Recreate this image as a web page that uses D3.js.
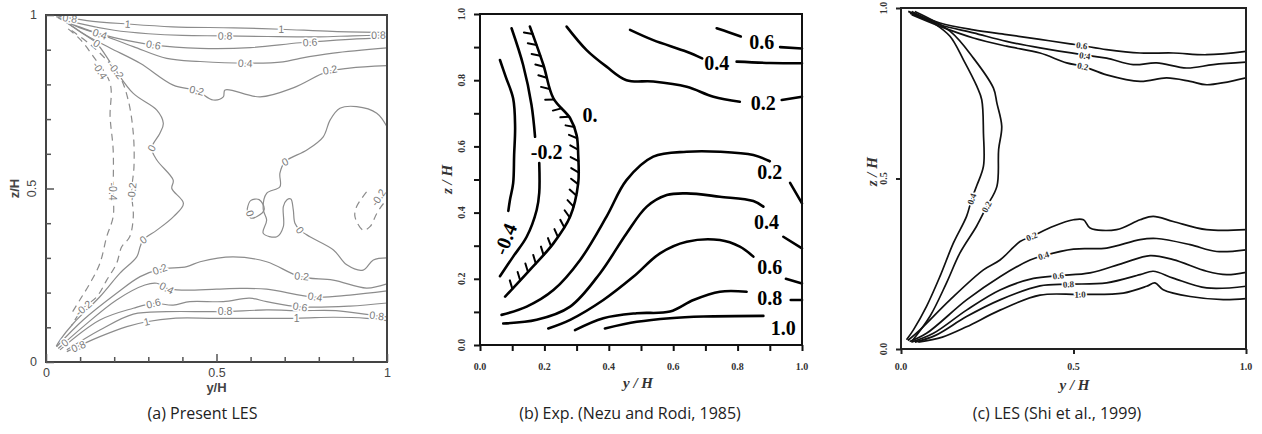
<!DOCTYPE html>
<html><head><meta charset="utf-8">
<script src="https://cdn.jsdelivr.net/npm/d3@7"></script>
<style>
body{margin:0;background:#fff;}
svg{display:block;}
</style></head><body>
<svg id="chart" width="1262" height="434"></svg>
<script>
// ---------------- DATA (y/H, z/H) ----------------
const captions = ["(a) Present LES", "(b) Exp. (Nezu and Rodi, 1985)", "(c) LES (Shi et al., 1999)"];
const axisTitleX = ["y/H", "y / H", "y / H"];
const axisTitleZ = ["z/H", "z / H", "z / H"];
const aTickMajor = [0, 0.5, 1];
const aTickLabels = ["0", "0.5", "1"];
const aTickMinor = [0.1,0.2,0.3,0.4,0.6,0.7,0.8,0.9];
const bTicks = [0,0.1,0.2,0.3,0.4,0.5,0.6,0.7,0.8,0.9,1.0];
const bTickLabels = ["0.0","0.2","0.4","0.6","0.8","1.0"];
const bTickLabelVals = [0,0.2,0.4,0.6,0.8,1.0];
const cTicks = [0, 0.5, 1.0];
const cTickLabels = ["0.0","0.5","1.0"];

// Panel (a) Present LES
const aTop10 = [[0.03,0.998],[0.12,0.984],[0.24,0.974],[0.37,0.966],[0.55,0.963],[0.69,0.959],[0.84,0.953],[1.0,0.950]];
const aTop08 = [[0.03,0.995],[0.1,0.975],[0.2,0.956],[0.3,0.946],[0.4,0.941],[0.52,0.940],[0.65,0.938],[0.8,0.937],[0.9,0.940],[1.0,0.942]];
const aTop06 = [[0.035,0.992],[0.1,0.963],[0.2,0.935],[0.315,0.914],[0.452,0.904],[0.6,0.906],[0.745,0.920],[0.89,0.93],[1.0,0.935]];
const aTop04 = [[0.04,0.99],[0.1,0.965],[0.158,0.945],[0.256,0.909],[0.354,0.875],[0.452,0.866],[0.584,0.861],[0.695,0.865],[0.745,0.875],[0.842,0.89],[1.0,0.905]];
const aTop02 = [[0.045,0.99],[0.12,0.94],[0.188,0.905],[0.276,0.861],[0.373,0.798],[0.442,0.782],[0.49,0.755],[0.52,0.764],[0.525,0.784],[0.628,0.764],[0.725,0.79],[0.823,0.836],[0.89,0.847],[1.0,0.854]];
const aZeroL = [[0.05,0.985],[0.11,0.945],[0.149,0.918],[0.197,0.851],[0.256,0.774],[0.325,0.726],[0.344,0.688],[0.334,0.659],[0.31,0.616],[0.325,0.582],[0.373,0.524],[0.369,0.5],[0.403,0.457],[0.374,0.419],[0.325,0.38],[0.285,0.352],[0.276,0.332],[0.266,0.303],[0.217,0.256],[0.158,0.188],[0.08,0.111],[0.041,0.063],[0.03,0.045]];
const aZeroR = [[1.0,0.678],[0.97,0.717],[0.911,0.736],[0.862,0.731],[0.833,0.697],[0.813,0.649],[0.765,0.611],[0.701,0.577],[0.686,0.544],[0.686,0.505],[0.647,0.486],[0.637,0.44],[0.647,0.409],[0.637,0.371],[0.677,0.361],[0.696,0.39],[0.696,0.448],[0.706,0.467],[0.718,0.47],[0.725,0.44],[0.73,0.40],[0.745,0.38],[0.774,0.361],[0.843,0.323],[0.882,0.28],[0.93,0.265],[0.96,0.294],[1.0,0.3]];
const aZeroLoop = [[0.59,0.44],[0.6,0.465],[0.625,0.468],[0.64,0.44],[0.62,0.42],[0.6,0.415],[0.59,0.44]];
const aNeg02 = [[0.075,0.955],[0.13,0.915],[0.178,0.87],[0.217,0.822],[0.241,0.755],[0.256,0.659],[0.258,0.563],[0.251,0.491],[0.256,0.419],[0.245,0.36],[0.222,0.332],[0.207,0.284],[0.178,0.236],[0.149,0.188],[0.109,0.155],[0.075,0.105]];
const aNeg04 = [[0.065,0.96],[0.1,0.93],[0.139,0.88],[0.188,0.803],[0.188,0.707],[0.197,0.611],[0.197,0.491],[0.197,0.419],[0.178,0.361],[0.158,0.284],[0.129,0.227],[0.1,0.18],[0.075,0.14]];
const aNegR = [[0.94,0.49],[0.911,0.448],[0.906,0.419],[0.93,0.38],[0.95,0.39],[0.97,0.428],[0.99,0.457],[1.0,0.465]];
const aBot02 = [[0.031,0.044],[0.109,0.121],[0.207,0.198],[0.276,0.246],[0.334,0.267],[0.413,0.275],[0.452,0.289],[0.548,0.303],[0.647,0.289],[0.745,0.246],[0.842,0.236],[0.94,0.213],[1.0,0.225]];
const aBot04 = [[0.036,0.039],[0.109,0.102],[0.207,0.179],[0.29,0.222],[0.325,0.227],[0.354,0.212],[0.403,0.207],[0.5,0.21],[0.569,0.212],[0.647,0.21],[0.789,0.187],[0.891,0.193],[1.0,0.205]];
const aBot06 = [[0.041,0.035],[0.158,0.121],[0.256,0.155],[0.315,0.169],[0.373,0.164],[0.422,0.174],[0.52,0.174],[0.597,0.184],[0.647,0.174],[0.745,0.159],[0.891,0.161],[1.0,0.17]];
const aBot08 = [[0.061,0.035],[0.158,0.092],[0.256,0.138],[0.354,0.145],[0.471,0.145],[0.525,0.145],[0.647,0.15],[0.745,0.148],[0.85,0.148],[0.97,0.133],[1.0,0.13]];
const aBot10 = [[0.061,0.03],[0.158,0.073],[0.237,0.102],[0.295,0.116],[0.373,0.126],[0.5,0.126],[0.735,0.126],[0.843,0.129],[0.94,0.126],[1.0,0.119]];
const aLabels = [
  [0.24,0.974,"1"],[0.69,0.959,"1"],[0.525,0.94,"0.8"],[0.975,0.942,"0.8"],[0.07,0.99,"0.8"],
  [0.315,0.914,"0.6"],[0.774,0.921,"0.6"],[0.584,0.861,"0.4"],[0.158,0.945,"0.4"],
  [0.442,0.782,"0.2"],[0.833,0.842,"0.2"],[0.149,0.918,"0"],
  [0.158,0.84,"-0.4"],[0.205,0.84,"-0.2"],[0.197,0.491,"-0.4"],[0.252,0.491,"-0.2"],
  [0.31,0.616,"0"],[0.285,0.352,"0"],[0.701,0.577,"0"],[0.745,0.38,"0"],[0.598,0.428,"0"],[0.975,0.474,"-0.2"],
  [0.334,0.267,"0.2"],[0.75,0.247,"0.2"],[0.354,0.213,"0.4"],[0.789,0.188,"0.4"],
  [0.315,0.169,"0.6"],[0.745,0.159,"0.6"],[0.525,0.145,"0.8"],[0.97,0.133,"0.8"],
  [0.295,0.116,"1"],[0.735,0.126,"1"],[0.11,0.155,"-0.2"],[0.055,0.055,"0"],[0.095,0.045,"0.8"]
];

// Panel (b) Nezu & Rodi
const bNeg04 = [[0.062,0.861],[0.08,0.81],[0.103,0.745],[0.109,0.66],[0.106,0.574],[0.103,0.489],[0.093,0.438],[0.088,0.405]];
const bNeg02a = [[0.098,0.957],[0.134,0.846],[0.16,0.725],[0.171,0.629]];
const bNeg02b = [[0.184,0.55],[0.184,0.46],[0.176,0.408],[0.145,0.327],[0.103,0.267],[0.062,0.208]];
const bZero = [[0.155,0.962],[0.197,0.846],[0.228,0.745],[0.28,0.685],[0.3,0.634],[0.305,0.574],[0.305,0.489],[0.28,0.388],[0.228,0.307],[0.155,0.227],[0.078,0.146]];
const b02topA = [[0.269,0.962],[0.331,0.891],[0.393,0.841],[0.455,0.8],[0.538,0.796],[0.642,0.78],[0.725,0.75],[0.807,0.735]];
const b02topB = [[0.937,0.74],[1.0,0.75]];
const b04topA = [[0.466,0.952],[0.538,0.921],[0.642,0.886],[0.69,0.866]];
const b04topB = [[0.797,0.856],[0.9,0.852],[1.0,0.851]];
const b06topA = [[0.735,0.957],[0.772,0.945],[0.81,0.932]];
const b06topB = [[0.932,0.9],[1.0,0.896]];
const b02botA = [[0.067,0.091],[0.145,0.116],[0.228,0.166],[0.311,0.257],[0.393,0.388],[0.455,0.498],[0.538,0.569],[0.642,0.584],[0.745,0.584],[0.849,0.574],[0.9,0.555]];
const b02botB = [[0.963,0.49],[1.0,0.428]];
const b04botA = [[0.072,0.065],[0.176,0.076],[0.28,0.116],[0.373,0.217],[0.455,0.337],[0.518,0.418],[0.58,0.453],[0.642,0.458],[0.745,0.448],[0.849,0.435],[0.88,0.418]];
const b04botB = [[0.942,0.327],[1.0,0.292]];
const b06botA = [[0.212,0.05],[0.28,0.076],[0.383,0.136],[0.476,0.206],[0.559,0.277],[0.642,0.312],[0.745,0.317],[0.807,0.297],[0.849,0.267]];
const b06botB = [[0.95,0.2],[1.0,0.186]];
const b08botA = [[0.295,0.045],[0.383,0.081],[0.487,0.096],[0.59,0.101],[0.663,0.136],[0.745,0.161],[0.828,0.161]];
const b08botB = [[0.965,0.136],[1.0,0.136]];
const b10bot = [[0.388,0.05],[0.487,0.07],[0.59,0.081],[0.694,0.086],[0.88,0.088]];
const bLabels = [
  [0.875,0.916,"0.6"],[0.735,0.851,"0.4"],[0.88,0.73,"0.2"],[0.342,0.695,"0."],
  [0.207,0.584,"-0.2"],[0.078,0.32,"-0.4"],[0.9,0.524,"0.2"],[0.89,0.373,"0.4"],
  [0.9,0.237,"0.6"],[0.9,0.141,"0.8"],[0.942,0.05,"1.0"]
];

// Panel (c) Shi et al.
const cTop06 = [[0.021,0.99],[0.113,0.956],[0.21,0.936],[0.306,0.922],[0.403,0.908],[0.49,0.895],[0.524,0.89],[0.596,0.878],[0.693,0.868],[0.789,0.868],[0.886,0.863],[1.0,0.873]];
const cTop04 = [[0.026,0.985],[0.113,0.951],[0.21,0.927],[0.306,0.902],[0.403,0.883],[0.533,0.862],[0.596,0.853],[0.673,0.834],[0.741,0.839],[0.828,0.824],[0.905,0.834],[1.0,0.841]];
const cTop02 = [[0.031,0.98],[0.113,0.946],[0.21,0.912],[0.306,0.888],[0.403,0.868],[0.48,0.839],[0.527,0.829],[0.596,0.804],[0.693,0.785],[0.77,0.795],[0.838,0.785],[0.886,0.775],[1.0,0.795]];
const cNeg04 = [[0.031,0.99],[0.094,0.956],[0.142,0.917],[0.181,0.848],[0.22,0.77],[0.234,0.731],[0.239,0.633],[0.239,0.536],[0.22,0.48],[0.205,0.44],[0.19,0.389],[0.152,0.311],[0.113,0.213],[0.074,0.125],[0.036,0.056],[0.016,0.027]];
const cNeg02 = [[0.04,0.99],[0.142,0.932],[0.21,0.853],[0.268,0.765],[0.278,0.721],[0.292,0.653],[0.283,0.585],[0.278,0.477],[0.248,0.417],[0.219,0.36],[0.171,0.282],[0.132,0.194],[0.084,0.096],[0.031,0.022]];
const c02bot = [[0.02,0.025],[0.055,0.056],[0.142,0.144],[0.239,0.232],[0.287,0.261],[0.345,0.315],[0.379,0.33],[0.442,0.36],[0.5,0.379],[0.529,0.379],[0.548,0.355],[0.625,0.35],[0.693,0.379],[0.731,0.389],[0.789,0.374],[0.886,0.35],[1.0,0.35]];
const c04bot = [[0.025,0.022],[0.074,0.046],[0.19,0.144],[0.287,0.212],[0.374,0.261],[0.413,0.274],[0.5,0.293],[0.596,0.296],[0.693,0.321],[0.741,0.324],[0.838,0.306],[0.915,0.286],[1.0,0.291]];
const c06bot = [[0.03,0.02],[0.094,0.046],[0.19,0.114],[0.287,0.173],[0.384,0.207],[0.456,0.215],[0.548,0.223],[0.644,0.252],[0.722,0.274],[0.789,0.262],[0.886,0.228],[0.944,0.218],[1.0,0.225]];
const c08bot = [[0.04,0.02],[0.1,0.04],[0.19,0.095],[0.287,0.144],[0.403,0.185],[0.485,0.19],[0.596,0.194],[0.693,0.218],[0.731,0.228],[0.789,0.208],[0.886,0.179],[1.0,0.184]];
const c10bot = [[0.05,0.02],[0.12,0.035],[0.19,0.065],[0.287,0.114],[0.403,0.158],[0.519,0.16],[0.644,0.164],[0.712,0.184],[0.736,0.194],[0.76,0.174],[0.838,0.154],[0.934,0.145],[1.0,0.148]];
const cLabels = [
  [0.524,0.89,"0.6"],[0.533,0.86,"0.4"],[0.527,0.829,"0.2"],[0.205,0.44,"0.4"],[0.248,0.417,"0.2"],
  [0.379,0.33,"0.2"],[0.413,0.274,"0.4"],[0.456,0.215,"0.6"],[0.485,0.19,"0.8"],[0.519,0.16,"1.0"]
];

// ---------------- DRAWING ----------------
const svg = d3.select("#chart");
svg.append("rect").attr("width",1262).attr("height",434).attr("fill","#fff");

function nearestAngle(px, py, polylines){
  let best=Infinity, ang=0;
  for(const pl of polylines){
    for(let i=0;i<pl.length-1;i++){
      const [x1,y1]=pl[i],[x2,y2]=pl[i+1];
      const dx=x2-x1, dy=y2-y1, L2=(dx*dx+dy*dy)||1;
      let t=((px-x1)*dx+(py-y1)*dy)/L2; t=Math.max(0,Math.min(1,t));
      const qx=x1+t*dx-px, qy=y1+t*dy-py, d=qx*qx+qy*qy;
      if(d<best){best=d; ang=Math.atan2(dy,dx)*180/Math.PI;}
    }
  }
  if(ang>90) ang-=180; if(ang<=-90) ang+=180;
  return ang;
}

function makeScales(x0,x1,top,bottom){
  return {
    x: d3.scaleLinear().domain([0,1]).range([x0,x1]),
    y: d3.scaleLinear().domain([0,1]).range([bottom,top]),
    x0,x1,top,bottom
  };
}

// ======== Panel (a) ========
(function(){
  const S = makeScales(46,387,15,362);
  const g = svg.append("g");
  g.append("clipPath").attr("id","clipA").append("rect")
    .attr("x",S.x0).attr("y",S.top).attr("width",S.x1-S.x0).attr("height",S.bottom-S.top);
  const line = d3.line().x(d=>S.x(d[0])).y(d=>S.y(d[1])).curve(d3.curveCatmullRom.alpha(0.5));
  const solid = [aTop10,aTop08,aTop06,aTop04,aTop02,aZeroL,aZeroR,aZeroLoop,aBot02,aBot04,aBot06,aBot08,aBot10];
  const dashed = [aNeg02,aNeg04,aNegR];
  const cg = g.append("g").attr("clip-path","url(#clipA)");
  cg.selectAll("path.s").data(solid).join("path").attr("class","s").attr("d",line)
    .attr("fill","none").attr("stroke","#8c8c8c").attr("stroke-width",1.2);
  cg.selectAll("path.d").data(dashed).join("path").attr("class","d").attr("d",line)
    .attr("fill","none").attr("stroke","#8c8c8c").attr("stroke-width",1.2).attr("stroke-dasharray","7,5");
  const polys = solid.concat(dashed).map(p=>p.map(d=>[S.x(d[0]),S.y(d[1])]));
  g.selectAll("text.lab").data(aLabels).join("text").attr("class","lab")
    .attr("transform",d=>{const px=S.x(d[0]),py=S.y(d[1]);return `translate(${px},${py}) rotate(${nearestAngle(px,py,polys)})`;})
    .attr("text-anchor","middle").attr("dy","0.35em")
    .attr("font-family","Liberation Sans, Arial, sans-serif").attr("font-size",10.5)
    .attr("fill","#7a7a7a").attr("stroke","#fff").attr("stroke-width",3).attr("paint-order","stroke")
    .text(d=>d[2]);
  // frame
  g.append("rect").attr("x",S.x0).attr("y",S.top).attr("width",S.x1-S.x0).attr("height",S.bottom-S.top)
    .attr("fill","none").attr("stroke","#444").attr("stroke-width",2);
  // ticks (inward)
  const bx = g.append("g").attr("transform",`translate(0,${S.bottom})`);
  bx.append("g").call(d3.axisBottom(S.x).tickValues(aTickMinor).tickSize(-5).tickFormat(""));
  bx.append("g").call(d3.axisBottom(S.x).tickValues(aTickMajor).tickSize(-8).tickPadding(6).tickFormat((d,i)=>aTickLabels[i]));
  const ly = g.append("g").attr("transform",`translate(${S.x0},0)`);
  ly.append("g").call(d3.axisRight(S.y).tickValues(aTickMinor).tickSize(5).tickFormat(""));
  ly.append("g").call(d3.axisRight(S.y).tickValues(aTickMajor).tickSize(8).tickFormat(""));
  g.selectAll(".domain").remove();
  g.selectAll(".tick line").attr("stroke","#555").attr("stroke-width",1.5);
  g.selectAll(".tick text").attr("font-family","Liberation Sans, Arial, sans-serif").attr("font-size",12.5).attr("fill","#444");
  // left labels
  g.selectAll("text.yl").data(aTickMajor).join("text").attr("class","yl")
    .attr("transform",(d,i)=> i===1 ? `translate(${S.x0-10},${S.y(d)}) rotate(-90)` : `translate(${S.x0-9},${S.y(d)})`)
    .attr("text-anchor",(d,i)=> i===1 ? "middle" : "end").attr("dy",(d,i)=> i===1 ? "0" : "0.35em")
    .attr("font-family","Liberation Sans, Arial, sans-serif").attr("font-size",12.5).attr("fill","#444")
    .text((d,i)=>aTickLabels[i]);
  g.append("text").attr("x",(S.x0+S.x1)/2).attr("y",S.bottom+30).attr("text-anchor","middle")
    .attr("font-family","Liberation Sans, Arial, sans-serif").attr("font-weight","bold").attr("font-size",13).attr("fill","#444")
    .text(axisTitleX[0]);
  g.append("text").attr("transform",`translate(${S.x0-27},${(S.top+S.bottom)/2}) rotate(-90)`).attr("text-anchor","middle")
    .attr("font-family","Liberation Sans, Arial, sans-serif").attr("font-weight","bold").attr("font-size",13).attr("fill","#444")
    .text(axisTitleZ[0]);
  g.append("text").attr("x",(S.x0+S.x1)/2 - 14).attr("y",419).attr("text-anchor","middle")
    .attr("font-family","Open Sans, sans-serif").attr("font-size",16).attr("fill","#222").text(captions[0]);
})();

// ======== Panel (b) ========
(function(){
  const S = makeScales(480,802,14,345);
  const g = svg.append("g");
  const line = d3.line().x(d=>S.x(d[0])).y(d=>S.y(d[1])).curve(d3.curveCatmullRom.alpha(0.5));
  const lines = [bNeg04,bNeg02a,bNeg02b,bZero,b02topA,b02topB,b04topA,b04topB,b06topA,b06topB,b02botA,b02botB,b04botA,b04botB,b06botA,b06botB,b08botA,b08botB,b10bot];
  g.selectAll("path.c").data(lines).join("path").attr("class","c").attr("d",line)
    .attr("fill","none").attr("stroke","#000").attr("stroke-width",2.6).attr("stroke-linecap","round");
  // hatches along the zero contour
  const tmp = g.append("path").attr("d",line(bZero)).attr("fill","none").attr("stroke","none");
  const node = tmp.node(), L = node.getTotalLength();
  const hatches = [];
  for(let s=8; s<L-4; s+=11.5){
    const p = node.getPointAtLength(s), q = node.getPointAtLength(Math.min(L,s+1));
    let tx=q.x-p.x, ty=q.y-p.y; const n=Math.hypot(tx,ty)||1; tx/=n; ty/=n;
    const ex = p.x + 9*(-ty*0.85 - tx*0.5), ey = p.y + 9*(tx*0.85 - ty*0.5);
    hatches.push([p.x,p.y,ex,ey]);
  }
  g.selectAll("line.h").data(hatches).join("line").attr("class","h")
    .attr("x1",d=>d[0]).attr("y1",d=>d[1]).attr("x2",d=>d[2]).attr("y2",d=>d[3])
    .attr("stroke","#000").attr("stroke-width",2).attr("stroke-linecap","round");
  g.selectAll("text.lab").data(bLabels).join("text").attr("class","lab")
    .attr("transform",d=>`translate(${S.x(d[0])},${S.y(d[1])}) rotate(${d[2]==="-0.4"?-68:0})`)
    .attr("text-anchor","middle").attr("dy","0.35em")
    .attr("font-family","Liberation Serif, Times New Roman, serif").attr("font-weight","bold").attr("font-size",20)
    .attr("fill","#000").text(d=>d[2]);
  g.append("rect").attr("x",S.x0).attr("y",S.top).attr("width",S.x1-S.x0).attr("height",S.bottom-S.top)
    .attr("fill","none").attr("stroke","#111").attr("stroke-width",2);
  const bx = g.append("g").attr("transform",`translate(0,${S.bottom})`);
  bx.call(d3.axisBottom(S.x).tickValues(bTicks).tickSize(6).tickFormat(""));
  const ly = g.append("g").attr("transform",`translate(${S.x0},0)`);
  ly.call(d3.axisLeft(S.y).tickValues(bTicks).tickSize(6).tickFormat(""));
  g.selectAll(".domain").remove();
  g.selectAll(".tick line").attr("stroke","#111").attr("stroke-width",2);
  g.selectAll("text.xl").data(bTickLabelVals).join("text").attr("class","xl")
    .attr("x",d=>S.x(d)).attr("y",S.bottom+25).attr("text-anchor","middle")
    .attr("font-family","Liberation Serif, Times New Roman, serif").attr("font-weight","bold").attr("font-size",10).attr("fill","#333")
    .text((d,i)=>bTickLabels[i]);
  g.selectAll("text.yl").data(bTickLabelVals).join("text").attr("class","yl")
    .attr("transform",d=>`translate(${S.x0-15},${S.y(d)}) rotate(-90)`).attr("text-anchor","middle")
    .attr("font-family","Liberation Serif, Times New Roman, serif").attr("font-weight","bold").attr("font-size",10).attr("fill","#333")
    .text((d,i)=>bTickLabels[i]);
  g.append("text").attr("x",(S.x0+S.x1)/2-3).attr("y",S.bottom+43).attr("text-anchor","middle")
    .attr("font-family","Liberation Serif, Times New Roman, serif").attr("font-style","italic").attr("font-weight","bold").attr("font-size",15).attr("fill","#333")
    .text(axisTitleX[1]);
  g.append("text").attr("transform",`translate(${S.x0-28},${S.y(0.5)}) rotate(-90)`).attr("text-anchor","middle")
    .attr("font-family","Liberation Serif, Times New Roman, serif").attr("font-style","italic").attr("font-weight","bold").attr("font-size",15).attr("fill","#333")
    .text(axisTitleZ[1]);
  g.append("text").attr("x",630).attr("y",419).attr("text-anchor","middle")
    .attr("font-family","Open Sans, sans-serif").attr("font-size",16).attr("fill","#222").text(captions[1]);
})();

// ======== Panel (c) ========
(function(){
  const S = makeScales(901,1246,8,349);
  const g = svg.append("g");
  g.append("clipPath").attr("id","clipC").append("rect")
    .attr("x",S.x0).attr("y",S.top).attr("width",S.x1-S.x0).attr("height",S.bottom-S.top);
  const line = d3.line().x(d=>S.x(d[0])).y(d=>S.y(d[1])).curve(d3.curveCatmullRom.alpha(0.5));
  const lines = [cTop06,cTop04,cTop02,cNeg04,cNeg02,c02bot,c04bot,c06bot,c08bot,c10bot];
  g.append("g").attr("clip-path","url(#clipC)").selectAll("path.c").data(lines).join("path").attr("class","c").attr("d",line)
    .attr("fill","none").attr("stroke","#111").attr("stroke-width",1.7).attr("stroke-linejoin","round");
  const polys = lines.map(p=>p.map(d=>[S.x(d[0]),S.y(d[1])]));
  g.selectAll("text.lab").data(cLabels).join("text").attr("class","lab")
    .attr("transform",d=>{const px=S.x(d[0]),py=S.y(d[1]);return `translate(${px},${py}) rotate(${nearestAngle(px,py,polys)})`;})
    .attr("text-anchor","middle").attr("dy","0.35em")
    .attr("font-family","Liberation Serif, Times New Roman, serif").attr("font-weight","bold").attr("font-size",9)
    .attr("fill","#333").attr("stroke","#fff").attr("stroke-width",3).attr("paint-order","stroke")
    .text(d=>d[2]);
  g.append("rect").attr("x",S.x0).attr("y",S.top).attr("width",S.x1-S.x0).attr("height",S.bottom-S.top)
    .attr("fill","none").attr("stroke","#222").attr("stroke-width",2);
  const bx = g.append("g").attr("transform",`translate(0,${S.bottom})`);
  bx.call(d3.axisBottom(S.x).tickValues(cTicks).tickSize(5).tickFormat(""));
  const ly = g.append("g").attr("transform",`translate(${S.x0},0)`);
  ly.call(d3.axisLeft(S.y).tickValues(cTicks).tickSize(5).tickFormat(""));
  g.selectAll(".domain").remove();
  g.selectAll(".tick line").attr("stroke","#222").attr("stroke-width",2);
  g.selectAll("text.xl").data(cTicks).join("text").attr("class","xl")
    .attr("x",d=>S.x(d)).attr("y",S.bottom+21).attr("text-anchor","middle")
    .attr("font-family","Liberation Serif, Times New Roman, serif").attr("font-weight","bold").attr("font-size",10).attr("fill","#333")
    .text((d,i)=>cTickLabels[i]);
  g.selectAll("text.yl").data(cTicks).join("text").attr("class","yl")
    .attr("transform",d=>`translate(${S.x0-14},${S.y(d)}) rotate(-90)`).attr("text-anchor","middle")
    .attr("font-family","Liberation Serif, Times New Roman, serif").attr("font-weight","bold").attr("font-size",10).attr("fill","#333")
    .text((d,i)=>cTickLabels[i]);
  g.append("text").attr("x",S.x(0.5)+1).attr("y",S.bottom+41).attr("text-anchor","middle")
    .attr("font-family","Liberation Serif, Times New Roman, serif").attr("font-style","italic").attr("font-weight","bold").attr("font-size",15).attr("fill","#333")
    .text(axisTitleX[2]);
  g.append("text").attr("transform",`translate(${S.x0-24},${S.y(0.52)}) rotate(-90)`).attr("text-anchor","middle")
    .attr("font-family","Liberation Serif, Times New Roman, serif").attr("font-style","italic").attr("font-weight","bold").attr("font-size",15).attr("fill","#333")
    .text(axisTitleZ[2]);
  g.append("text").attr("x",1057).attr("y",419).attr("text-anchor","middle")
    .attr("font-family","Open Sans, sans-serif").attr("font-size",16).attr("fill","#222").text(captions[2]);
})();
</script>
</body></html>
